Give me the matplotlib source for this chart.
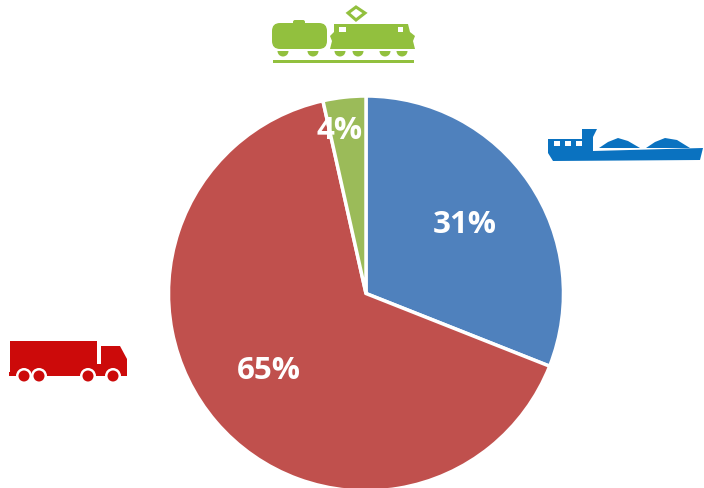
import matplotlib
matplotlib.use("Agg")
import matplotlib.pyplot as plt
from matplotlib.patches import Polygon, Rectangle, Circle, Wedge, FancyBboxPatch

shares = [31, 65.5, 3.5]
labels = ["31%", "65%", "4%"]
colors = ["#4f81bd", "#c0504d", "#9bbb59"]

plt.rcParams['font.family'] = ['Open Sans', 'DejaVu Sans']

fig = plt.figure(figsize=(7.04, 4.89), dpi=100)
bg = fig.add_axes([0, 0, 1, 1])
bg.set_xlim(0, 704)
bg.set_ylim(489, 0)
bg.axis("off")

# pie centred at 366,293, a bit oversize because the white edge eats into it
size = 395
ax = fig.add_axes([(366 - size / 2) / 704, (489 - 294.5 - size / 2) / 489, size / 704, size / 489])
wedges, _ = ax.pie(shares, colors=colors, startangle=90, counterclock=False, radius=1,
                   wedgeprops={"edgecolor": "white", "linewidth": 2.5})
ax.set_xlim(-1, 1)
ax.set_ylim(-1, 1)
for w in wedges:
    w.set_clip_on(False)

text_pos = [(465, 225), (269, 371), (340, 131)]
for lab, (x, y) in zip(labels, text_pos):
    bg.text(x, y, lab, color="white", fontsize=22.5, fontweight="bold", ha="center", va="center", zorder=5)
bg.set_zorder(3)
bg.patch.set_alpha(0)

# train icon
green = "#92c03e"
bg.add_patch(FancyBboxPatch((272, 24), 55, 26, boxstyle="round,pad=0,rounding_size=8", fc=green, ec="none"))
bg.add_patch(FancyBboxPatch((293, 21), 12, 5, boxstyle="round,pad=0,rounding_size=2", fc=green, ec="none"))
bg.add_patch(Polygon([(334, 25), (408, 25), (410, 33), (415, 37), (413, 42), (415, 50),
                      (330, 50), (332, 42), (330, 37), (334, 33)], fc=green, ec="none"))
for x, w in ((339, 7), (398, 5)):
    bg.add_patch(Rectangle((x, 28), w, 5, fc="white", ec="none"))
for x in (283, 313, 340, 358, 385, 402):
    bg.add_patch(Wedge((x, 52), 5.5, 0, 180, fc=green, ec="none"))
bg.add_patch(Rectangle((273, 61), 141, 3, fc=green, ec="none"))
bg.add_patch(Polygon([(356, 8), (365, 14), (356, 21), (348, 14)], fc="none", ec=green, lw=2.2))

# barge icon
blue = "#0a72c0"
bg.add_patch(Polygon([(548, 140), (582, 140), (582, 130), (597, 130), (593, 138), (593, 152),
                      (703, 149), (700, 161), (553, 162), (548, 154)], fc=blue, ec="none"))
for x in (554, 565, 576):
    bg.add_patch(Rectangle((x, 142), 6, 5, fc="white", ec="none"))
bg.add_patch(Polygon([(599, 149), (608, 143), (618, 139), (628, 142), (640, 149)], fc=blue, ec="none"))
bg.add_patch(Polygon([(646, 149), (655, 143), (665, 139), (677, 141), (690, 149)], fc=blue, ec="none"))

# truck icon
red = "#cc0a0a"
bg.add_patch(Rectangle((10, 342), 87, 35, fc=red, ec="none"))
bg.add_patch(Rectangle((96, 365), 6, 12, fc=red, ec="none"))
bg.add_patch(Polygon([(101, 347), (120, 347), (127, 360), (127, 377), (101, 377)], fc=red, ec="none"))
bg.add_patch(Rectangle((9, 373), 118, 4, fc=red, ec="none"))
for x in (24, 39, 88, 113):
    bg.add_patch(Circle((x, 377), 8, fc="white", ec="none"))
for x in (24, 39, 88, 113):
    bg.add_patch(Circle((x, 377), 5.5, fc=red, ec="none"))

fig.savefig("out.png", dpi=100)
